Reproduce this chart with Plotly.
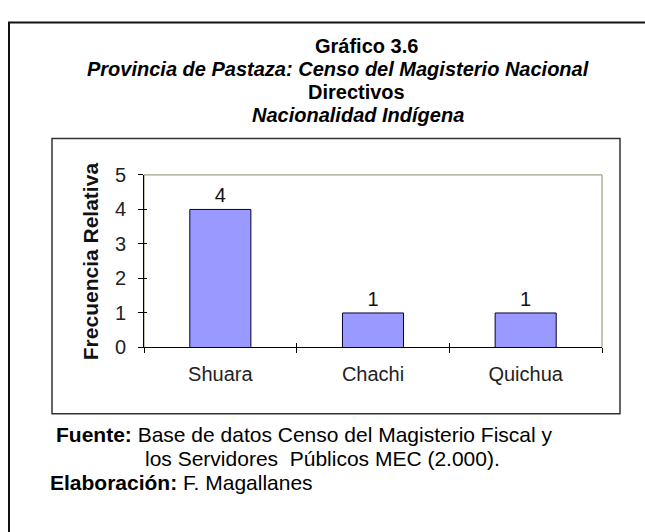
import plotly.graph_objects as go

categories = ["Shuara", "Chachi", "Quichua"]
values = [4, 1, 1]
y_ticks = [0, 1, 2, 3, 4, 5]
y_range = [0, 5]

title_lines = [
    ("<b>Gráfico 3.6</b>", 366),
    ("<b><i>Provincia de Pastaza: Censo del Magisterio Nacional</i></b>", 338),
    ("<b>Directivos</b>", 356),
    ("<b><i>Nacionalidad Indígena</i></b>", 358),
]
title_y = [37, 61, 85, 109]

W, H = 645, 532
FONT = "Liberation Sans, Arial, sans-serif"


def px(x):
    return x / W


def py(y):
    return 1 - y / H


fig = go.Figure()
fig.add_trace(go.Bar(
    x=categories, y=values,
    marker=dict(color="#9999FF", line=dict(color="#000033", width=1)),
    text=[str(v) for v in values], textposition="outside",
    textfont=dict(family=FONT, size=20, color="#111"),
    cliponaxis=False, width=0.4, hoverinfo="x+y",
))
# helper trace so the overlay axes (inner half of the cross ticks) are drawn
fig.add_trace(go.Scatter(x=[], y=[], xaxis="x2", yaxis="y2", showlegend=False))

shapes = [
    dict(type="rect", xref="paper", yref="paper", x0=px(9), x1=1.05, y0=-0.05, y1=py(12),
         line=dict(color="#111", width=2), layer="below"),
    dict(type="rect", xref="paper", yref="paper", x0=px(52), x1=px(620), y0=py(420), y1=py(133),
         line=dict(color="#333", width=1.5), layer="below"),
    dict(type="rect", xref="x domain", yref="y domain", x0=0, x1=1, y0=0, y1=1,
         line=dict(color="#8a8a6a", width=1), layer="below"),
]

annotations = []
for (txt, cx), yy in zip(title_lines, title_y):
    annotations.append(dict(text=txt, xref="paper", yref="paper", x=px(cx), y=py(yy),
                            xanchor="center", yanchor="middle", showarrow=False,
                            font=dict(family=FONT, size=20, color="#000")))

annotations.append(dict(text="<b>Frecuencia Relativa</b>", xref="paper", yref="paper",
                        x=px(90), y=py(261), textangle=-90, xanchor="center", yanchor="middle",
                        showarrow=False, font=dict(family=FONT, size=21, color="#111")))

footer = [
    ("<b>Fuente:</b> Base de datos Censo del Magisterio Fiscal y", 54, 442),
    ("los Servidores\u00a0\u00a0Públicos MEC (2.000).", 143, 467),
    ("<b>Elaboración:</b> F. Magallanes", 48, 492),
]
for txt, x, y in footer:
    annotations.append(dict(text=txt, xref="paper", yref="paper", x=px(x), y=py(y),
                            xanchor="left", yanchor="middle", showarrow=False,
                            font=dict(family=FONT, size=21, color="#000")))

x_dom = [px(144), px(602)]
y_dom = [py(351), py(171)]
n = len(categories)

fig.update_layout(
    width=W, height=H, margin=dict(l=0, r=0, t=0, b=0),
    paper_bgcolor="white", plot_bgcolor="white",
    showlegend=False, bargap=0.6,
    shapes=shapes, annotations=annotations,
    xaxis=dict(domain=x_dom, showline=True, linecolor="#000", linewidth=1,
               ticks="outside", tickson="boundaries", ticklen=5, tickcolor="#000",
               showgrid=False, zeroline=False, ticklabelstandoff=9,
               tickfont=dict(family=FONT, size=20, color="#222")),
    yaxis=dict(domain=y_dom, range=y_range, tickvals=y_ticks,
               showline=True, linecolor="#000", linewidth=1,
               ticks="outside", ticklen=5, tickcolor="#000", showgrid=False, zeroline=False,
               ticklabelstandoff=8,
               tickfont=dict(family=FONT, size=20, color="#222")),
    xaxis2=dict(overlaying="x", anchor="y2", range=[-0.5, n - 0.5],
                tickvals=[i - 0.5 for i in range(n + 1)], ticks="inside", ticklen=4,
                tickcolor="#000", showticklabels=False, showgrid=False, zeroline=False,
                showline=False),
    yaxis2=dict(overlaying="y", anchor="x2", range=y_range, tickvals=y_ticks,
                ticks="inside", ticklen=3, tickcolor="#000", showticklabels=False,
                showgrid=False, zeroline=False, showline=False),
)

fig.write_html("out.html", config={"displayModeBar": False},
               post_script="document.body.style.margin='0';")
